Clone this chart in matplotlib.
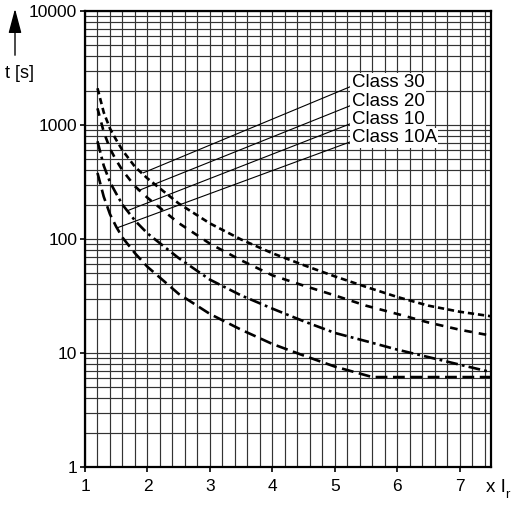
#!/usr/bin/env python3

import numpy as np
import matplotlib
matplotlib.use('Agg')
import matplotlib.pyplot as plt

plt.rcParams['font.family'] = ['Liberation Sans', 'DejaVu Sans']
plt.rcParams['lines.scale_dashes'] = False

# multiples of rated current
x_i = [1.2, 1.3, 1.4, 1.5, 1.6, 1.8, 2.0, 2.5, 3.0, 3.5, 4.0, 4.5, 5.0, 5.5, 6.0, 6.5, 7.0, 7.5]
x_10a = [1.2, 1.3, 1.4, 1.5, 1.6, 1.8, 2.0, 2.5, 3.0, 3.5, 4.0, 4.5, 5.0, 5.6, 6.0, 7.0, 7.5]

# tripping times in s
t_class30 = [2100, 1290, 930, 740, 600, 430, 340, 205, 137, 99, 75, 59, 47, 38, 31, 26, 23, 21]
t_class20 = [1400, 870, 620, 490, 400, 290, 230, 138, 91, 65, 48, 39, 32, 26, 22, 18.5, 16, 14.2]
t_class10 = [720, 440, 315, 250, 200, 145, 112, 68, 44, 32, 24.5, 19, 15, 12.7, 10.7, 9.2, 7.9, 6.8]
t_class10a = [380, 235, 165, 128, 103, 75, 57, 33, 22, 16, 12, 9.5, 7.6, 6.15, 6.15, 6.15, 6.15]

labels = ['Class 30', 'Class 20', 'Class 10', 'Class 10A']
# where the leader lines touch the curves
anchor_x = [1.93, 1.85, 1.69, 1.51]
anchor_t = [380, 265, 178, 125]
# label positions
label_x = 5.27
label_t = [2350, 1600, 1110, 770]

yticks = [1, 10, 100, 1000, 10000]
ytick_labels = ['1', '10', '100', '1000', '10000']
xticks = [1, 2, 3, 4, 5, 6, 7]

fig = plt.figure(figsize=(5.15, 5.15), dpi=100)
ax = fig.add_axes([85 / 515, 48 / 515, 406 / 515, 456 / 515])
ax.set_yscale('log')
ax.set_xlim(1, 7.5)
ax.set_ylim(1, 10000)

ax.set_xticks(xticks)
ax.set_xticks(np.arange(1.2, 7.45, 0.2), minor=True)
ax.set_yticks(yticks, labels=ytick_labels)
ax.yaxis.set_minor_locator(matplotlib.ticker.LogLocator(base=10, subs=np.arange(2, 10)))
ax.yaxis.set_minor_formatter(matplotlib.ticker.NullFormatter())
ax.grid(which='both', color='#333333', lw=0.85)
ax.set_axisbelow(True)
ax.tick_params(which='minor', length=0)
ax.tick_params(which='major', direction='out', length=3.5, width=1.2, labelsize=12.5)
ax.tick_params(axis='x', pad=5)
ax.tick_params(axis='y', pad=2)
for s in ax.spines.values():
    s.set_linewidth(1.6)

ax.plot(x_i, t_class30, color='black', lw=1.9, dashes=(4.5, 2.8))
ax.plot(x_i, t_class20, color='black', lw=1.9, dashes=(5.5, 5))
ax.plot(x_i, t_class10, color='black', lw=1.9, dashes=(8.5, 3, 2, 3))
ax.plot(x_10a, t_class10a, color='black', lw=1.9, dashes=(8.5, 4))

for lab, ax_x, ax_t, lt in zip(labels, anchor_x, anchor_t, label_t):
    ax.annotate(lab, xy=(ax_x, ax_t), xytext=(label_x, lt), textcoords='data',
                ha='left', va='center', fontsize=13.5,
                bbox=dict(fc='white', ec='none', pad=1),
                arrowprops=dict(arrowstyle='-', lw=0.8, color='black',
                                shrinkA=0, shrinkB=0, relpos=(0, 0.3)))

# axis captions
fig.text(5 / 515, 1 - 73 / 515, 't [s]', fontsize=13, va='center', ha='left')
ax.annotate('', xy=(15, 515 - 6), xytext=(15, 515 - 58), xycoords='figure pixels',
            textcoords='figure pixels',
            arrowprops=dict(arrowstyle='-|>,head_length=1.5,head_width=0.4',
                            mutation_scale=10, lw=1.0, color='black'))
fig.text(486 / 515, 1 - 487 / 515, 'x I', fontsize=13.5, va='center', ha='left')
fig.text(505.5 / 515, 1 - 495 / 515, 'r', fontsize=9.5, va='center', ha='left')

fig.savefig('out.png', dpi=100)
